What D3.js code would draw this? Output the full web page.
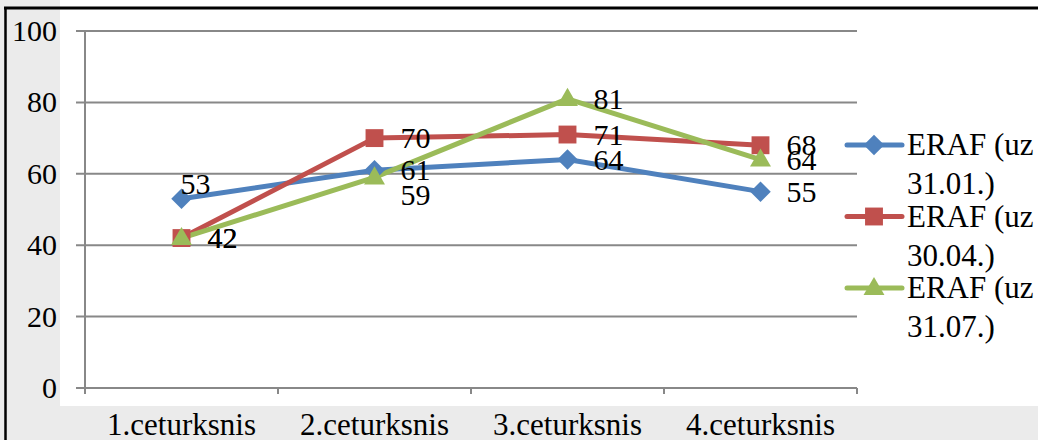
<!DOCTYPE html>
<html>
<head>
<meta charset="utf-8">
<script src="https://cdn.jsdelivr.net/npm/d3@7"></script>
</head>
<body style="margin:0">
<svg id="chart" width="1038" height="440"></svg>
<script>
// chart data
var categories = ["1.ceturksnis", "2.ceturksnis", "3.ceturksnis", "4.ceturksnis"];
var seriesNames = ["ERAF (uz 31.01.)", "ERAF (uz 30.04.)", "ERAF (uz 31.07.)"];
var legendLines = [["ERAF (uz", "31.01.)"], ["ERAF (uz", "30.04.)"], ["ERAF (uz", "31.07.)"]];
var valuesJan = [53, 61, 64, 55];
var valuesApr = [42, 70, 71, 68];
var valuesJul = [42, 59, 81, 64];
var yTicks = [0, 20, 40, 60, 80, 100];

var colors = ["#4f81bd", "#c0504d", "#9bbb59"];
var series = [valuesJan, valuesApr, valuesJul];
var FONT = "'Liberation Serif', 'Times New Roman', serif";

var svg = d3.select("#chart");

function txt(sel, size) {
  return sel.style("font-family", FONT).style("font-size", (size || 31) + "px").style("fill", "#000");
}

// grey page bits + frame
svg.append("rect").attr("x", 0).attr("y", 0).attr("width", 60).attr("height", 440).attr("fill", "#ebebeb");
svg.append("rect").attr("x", 0).attr("y", 406).attr("width", 1038).attr("height", 34).attr("fill", "#ebebeb");
svg.append("line").attr("x1", 5.5).attr("x2", 5.5).attr("y1", 7).attr("y2", 440).attr("stroke", "#000").attr("stroke-width", 2.5);
svg.append("line").attr("x1", 4).attr("x2", 1038).attr("y1", 8).attr("y2", 8).attr("stroke", "#000").attr("stroke-width", 3);

var plotL = 85, plotR = 857, plotT = 31, plotB = 388;
var x = d3.scaleBand().domain(categories).range([plotL, plotR]);
var y = d3.scaleLinear().domain([0, 100]).range([plotB, plotT]);
var cx = function(c) { return x(c) + x.bandwidth() / 2; };

// gridlines and y labels
var grid = svg.append("g");
grid.selectAll("line").data(yTicks).enter().append("line")
  .attr("x1", plotL - 9).attr("x2", plotR)
  .attr("y1", function(d) { return y(d); }).attr("y2", function(d) { return y(d); })
  .attr("stroke", "#888").attr("stroke-width", 2);
grid.selectAll("text").data(yTicks).enter().append("text")
  .attr("x", 57).attr("y", function(d) { return y(d) + 10; })
  .attr("text-anchor", "end").call(txt, 30)
  .text(function(d) { return d; });

// axes lines
svg.append("line").attr("x1", plotL).attr("x2", plotL).attr("y1", plotT).attr("y2", plotB + 6)
  .attr("stroke", "#888").attr("stroke-width", 2);
var bounds = categories.map(function(c) { return x(c); }).concat([plotR]);
svg.append("g").selectAll("line").data(bounds).enter().append("line")
  .attr("x1", function(d) { return d; }).attr("x2", function(d) { return d; })
  .attr("y1", plotB).attr("y2", plotB + 6)
  .attr("stroke", "#888").attr("stroke-width", 2);
svg.append("g").selectAll("text").data(categories).enter().append("text")
  .attr("x", function(d) { return cx(d); }).attr("y", 435)
  .attr("text-anchor", "middle").call(txt)
  .text(function(d) { return d; });

// markers: diamond = rotated square
function marker(sel, s) {
  if (s === 0) {
    sel.attr("d", d3.symbol().type(d3.symbolSquare).size(210));
    return 45;
  } else if (s === 1) {
    sel.attr("d", d3.symbol().type(d3.symbolSquare).size(320));
  } else {
    sel.attr("d", d3.symbol().type(d3.symbolTriangle).size(190));
  }
  return 0;
}

var line = d3.line()
  .x(function(d, i) { return cx(categories[i]); })
  .y(function(d) { return y(d); });

series.forEach(function(vals, s) {
  svg.append("path").datum(vals)
    .attr("d", line).attr("fill", "none")
    .attr("stroke", colors[s]).attr("stroke-width", 5).attr("stroke-linejoin", "round");
});
series.forEach(function(vals, s) {
  var pts = svg.append("g").selectAll("path").data(vals).enter().append("path").attr("fill", colors[s]);
  var rot = marker(pts, s);
  pts.attr("transform", function(d, i) {
    var yy = y(d) + (s === 2 ? 1 : 0);
    return "translate(" + cx(categories[i]) + "," + yy + ") rotate(" + rot + ")";
  });
});

// data labels (right of point, a few nudged like the original)
var nudge = { "0-0": [-27, -15], "2-1": [0, 18] };
series.forEach(function(vals, s) {
  svg.append("g").selectAll("text").data(vals).enter().append("text")
    .attr("x", function(d, i) { var n = nudge[s + "-" + i] || [0, 0]; return cx(categories[i]) + 26 + n[0]; })
    .attr("y", function(d, i) { var n = nudge[s + "-" + i] || [0, 0]; return y(d) + 10 + n[1]; })
    .call(txt, 30)
    .text(function(d) { return d; });
});

// legend
var leg = svg.append("g");
seriesNames.forEach(function(name, s) {
  var ly = 145 + s * 71.5;
  var g = leg.append("g");
  g.append("line").attr("x1", 847).attr("x2", 902).attr("y1", ly).attr("y2", ly)
    .attr("stroke", colors[s]).attr("stroke-width", 5).attr("stroke-linecap", "round");
  var m = g.append("path").attr("fill", colors[s]);
  var rot = marker(m, s);
  m.attr("transform", "translate(874," + (ly + (s === 2 ? 1 : 0)) + ") rotate(" + rot + ")");
  var t = g.append("text").attr("x", 907).attr("y", ly + 10).call(txt);
  legendLines[s].forEach(function(l, k) {
    t.append("tspan").attr("x", 907).attr("dy", k === 0 ? 0 : 39).text(l);
  });
});
</script>
</body>
</html>
